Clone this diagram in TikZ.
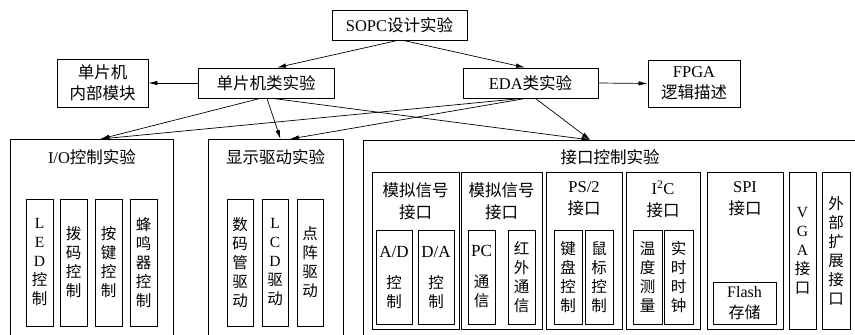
\documentclass[tikz,border=0pt]{standalone}
\usepackage{fontspec}
\setmainfont{Liberation Serif}
\newfontfamily\cjk{Noto Sans CJK SC}
\newcommand\zh[1]{{\cjk #1}}
\newcommand\lat[1]{{\fontsize{17}{18.5}\selectfont #1}}
\usetikzlibrary{arrows.meta,calc}
\tikzset{
  box/.style={draw, line width=0.9pt, inner sep=0pt, align=center},
  head/.style={font=\fontsize{16.5}{21}\selectfont},
  sub/.style={font=\fontsize{15.5}{19}\selectfont},
  arr/.style={line width=0.7pt, -{Latex[length=9pt,width=4.5pt]}},
  ttl/.style={inner sep=0pt, align=center, font=\fontsize{16.5}{22}\selectfont},
}
\begin{document}
\begin{tikzpicture}[x=1pt,y=-1pt]
\useasboundingbox (0,0) rectangle (855,335);
\clip (0,0) rectangle (855,335);
% top row
\node[box, head, minimum width=135, minimum height=30] (sopc) at (399.5,25) {SOPC\zh{设计实验}};
\node[box, head, minimum width=136, minimum height=30] (mcu) at (266,83) {\zh{单片机类实验}};
\node[box, head, minimum width=91, minimum height=48] (mcuin) at (102.5,83) {\zh{单片机}\\\zh{内部模块}};
\node[box, head, minimum width=135, minimum height=30] (eda) at (530.5,83) {EDA\zh{类实验}};
\node[box, head, minimum width=92, minimum height=47] (fpga) at (694,83.5) {FPGA\\\zh{逻辑描述}};
% big boxes
\node[box, anchor=north west, minimum width=163, minimum height=210] (io) at (10,139) {};
\node[box, anchor=north west, minimum width=135, minimum height=210] (disp) at (208,139) {};
\node[box, anchor=north west, minimum width=500, minimum height=210] (intf) at (363,140) {};
\node[ttl] (iot) at (92,157) {I/O\zh{控制实验}};
\node[ttl] (dispt) at (275.5,157) {\zh{显示驱动实验}};
\node[ttl] (intft) at (610,157) {\zh{接口控制实验}};
% IO inner
\node[box, sub, minimum width=27, minimum height=127] (led) at (39.5,262.5) {L\\E\\D\\\zh{控}\\\zh{制}};
\node[box, sub, minimum width=27, minimum height=127] (bm) at (73.5,262.5) {\zh{拨}\\\zh{码}\\\zh{控}\\\zh{制}};
\node[box, sub, minimum width=27, minimum height=127] (aj) at (108.5,262.5) {\zh{按}\\\zh{键}\\\zh{控}\\\zh{制}};
\node[box, sub, minimum width=27, minimum height=127] (fmq) at (143.5,262.5) {\zh{蜂}\\\zh{鸣}\\\zh{器}\\\zh{控}\\\zh{制}};
% display inner
\node[box, sub, minimum width=26, minimum height=127] (smg) at (240,262.5) {\zh{数}\\\zh{码}\\\zh{管}\\\zh{驱}\\\zh{动}};
\node[box, sub, minimum width=26, minimum height=127] (lcd) at (275,262.5) {L\\C\\D\\\zh{驱}\\\zh{动}};
\node[box, sub, minimum width=26, minimum height=127] (dz) at (310,262.5) {\zh{点}\\\zh{阵}\\\zh{驱}\\\zh{动}};
% interface groups
\node[box, minimum width=87, minimum height=157] (g1) at (415.5,250.5) {};
\node[box, minimum width=81, minimum height=157] (g2) at (501.5,250.5) {};
\node[box, minimum width=76, minimum height=157] (g3) at (584,250.5) {};
\node[box, minimum width=74, minimum height=157] (g4) at (663,250.5) {};
\node[box, minimum width=76, minimum height=157] (g5) at (745,250.5) {};
\node[ttl] (g1t) at (415.5,201) {\zh{模拟信号}\\\zh{接口}};
\node[ttl] (g2t) at (501.5,201) {\zh{模拟信号}\\\zh{接口}};
\node[ttl] (g3t) at (584,199) {PS/2\\\zh{接口}};
\node[ttl] (g4t) at (663,199) {I\textsuperscript{2}C\\\zh{接口}};
\node[ttl] (g5t) at (745,199) {SPI\\\zh{接口}};
\node[box, sub, minimum width=27, minimum height=157] (vga) at (802.5,250.5) {V\\G\\A\\\zh{接}\\\zh{口}};
\node[box, sub, minimum width=28, minimum height=157] (ext) at (836,250.5) {\zh{外}\\\zh{部}\\\zh{扩}\\\zh{展}\\\zh{接}\\\zh{口}};
% interface inner
\node[box, sub, minimum width=36, minimum height=94] (ad) at (394,277) {\lat{A/D}\\[12pt]\zh{控}\\\zh{制}};
\node[box, sub, minimum width=36, minimum height=94] (da) at (436,277) {\lat{D/A}\\[12pt]\zh{控}\\\zh{制}};
\node[box, sub, minimum width=27, minimum height=94] (pc) at (481.5,277) {\lat{PC}\\[12pt]\zh{通}\\\zh{信}};
\node[box, sub, minimum width=27, minimum height=94] (hw) at (521.5,277) {\zh{红}\\\zh{外}\\\zh{通}\\\zh{信}};
\node[box, sub, minimum width=28, minimum height=94] (jp) at (568,277) {\zh{键}\\\zh{盘}\\\zh{控}\\\zh{制}};
\node[box, sub, minimum width=28, minimum height=94] (sb) at (599,277) {\zh{鼠}\\\zh{标}\\\zh{控}\\\zh{制}};
\node[box, sub, minimum width=29, minimum height=94] (wd) at (647.5,277) {\zh{温}\\\zh{度}\\\zh{测}\\\zh{量}};
\node[box, sub, minimum width=29, minimum height=94] (ss) at (678.5,277) {\zh{实}\\\zh{时}\\\zh{时}\\\zh{钟}};
\node[box, sub, minimum width=63, minimum height=42, font=\fontsize{16}{21}\selectfont] (fl) at (744.5,303) {Flash\\\zh{存储}};
% arrows
\draw[arr] ($(sopc.south)+(-2,0)$) -- ($(mcu.north)+(11,0)$);
\draw[arr] ($(sopc.south)+(4,0)$) -- ($(eda.north)+(-5.5,0)$);
\draw[arr] (mcu.west) -- (mcuin.east);
\draw[arr] (eda.east) -- (fpga.west);
\draw[arr] ($(mcu.south)+(-6,0)$) -- ($(io.north)+(8.5,0)$);
\draw[arr] ($(mcu.south)+(1,0)$) -- ($(disp.north)+(4.5,0)$);
\draw[arr] ($(mcu.south)+(7,0)$) -- ($(intf.north)+(-23,0)$);
\draw[arr] ($(eda.south)+(-9,0)$) -- ($(io.north)+(8.5,0)$);
\draw[arr] ($(eda.south)+(-5,0)$) -- ($(disp.north)+(14,0)$);
\draw[arr] ($(eda.south)+(5,0)$) -- ($(intf.north)+(-23,0)$);
\end{tikzpicture}
\end{document}
